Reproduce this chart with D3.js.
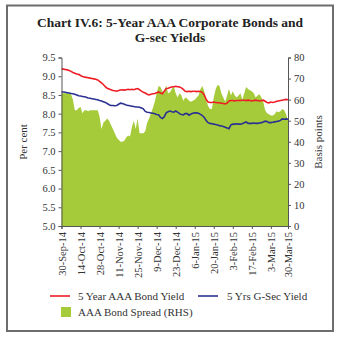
<!DOCTYPE html>
<html><head><meta charset="utf-8">
<script src="https://cdn.jsdelivr.net/npm/d3@7"></script>
<style>body{margin:0;background:#fff}svg{display:block}</style>
</head><body>
<script>
const tickLabels = ["30-Sep-14","14-Oct-14","28-Oct-14","11-Nov-14","25-Nov-14","9-Dec-14","23-Dec-14","6-Jan-15","20-Jan-15","3-Feb-15","17-Feb-15","3-Mar-15","30-Mar-15"];
const tickIndex = [0,10,20,30,40,50,60,70,80,90,100,110,119];
const aaaYield = [
9.20,9.19,9.18,9.17,9.15,9.13,9.10,9.08,9.06,9.05,
9.02,8.99,8.98,8.97,8.96,8.95,8.94,8.93,8.92,8.90,
8.86,8.82,8.78,8.72,8.68,8.66,8.64,8.62,8.61,8.60,
8.62,8.63,8.64,8.63,8.64,8.65,8.64,8.65,8.64,8.66,
8.67,8.64,8.60,8.57,8.55,8.52,8.50,8.52,8.53,8.54,
8.56,8.58,8.55,8.53,8.60,8.67,8.68,8.70,8.71,8.72,
8.73,8.72,8.71,8.69,8.65,8.60,8.59,8.60,8.59,8.60,
8.60,8.59,8.60,8.59,8.57,8.50,8.38,8.31,8.30,8.30,
8.31,8.30,8.29,8.29,8.28,8.27,8.26,8.28,8.34,8.35,
8.35,8.34,8.35,8.35,8.35,8.36,8.36,8.35,8.36,8.35,
8.34,8.35,8.36,8.35,8.34,8.35,8.36,8.33,8.30,8.29,
8.31,8.30,8.31,8.33,8.34,8.35,8.36,8.37,8.38,8.37];
const gsecYield = [
8.58,8.58,8.57,8.56,8.55,8.54,8.53,8.52,8.50,8.48,
8.47,8.46,8.45,8.44,8.42,8.41,8.40,8.39,8.38,8.37,
8.35,8.34,8.32,8.30,8.27,8.24,8.22,8.22,8.21,8.22,
8.25,8.28,8.27,8.25,8.23,8.22,8.21,8.20,8.19,8.18,
8.18,8.17,8.15,8.13,8.06,8.04,8.03,8.02,8.01,8.00,
7.98,7.97,7.90,7.87,7.92,8.02,8.05,8.07,8.05,8.04,
8.07,8.04,8.00,7.98,7.97,8.00,8.00,7.96,7.99,8.01,
8.02,8.02,8.01,7.98,7.95,7.90,7.82,7.76,7.74,7.73,
7.72,7.71,7.70,7.68,7.67,7.66,7.64,7.62,7.60,7.70,
7.72,7.72,7.73,7.72,7.72,7.73,7.76,7.78,7.74,7.74,
7.74,7.75,7.74,7.74,7.75,7.76,7.78,7.80,7.79,7.76,
7.76,7.77,7.78,7.79,7.80,7.82,7.86,7.85,7.86,7.85];
const spread = [
63,63,63,63,63,62.5,60,55,55,56,
56.5,53.5,55,55,54.5,55,55,55,55,55,
52,46,49,50,51,50,48,46,44,42,
41,40,40,40.5,42,43,42.5,47,50,46,
51,44,44,44,45,49,51,53.5,56,59,
63,66.5,66,64,63,67,63,63.5,65,66.5,
63,61,63,62,59.5,61,60.5,59.5,59,59.5,
60,61,62,65,66.5,64,60,57,55.5,55.5,
61,65,67,66.5,63,61,59,62,65,62,
64,62,61,62,63,60,63,66,65,64.5,
64,63,61,62,62.5,61,59,55,53.5,53,
52.5,52.5,53,54.5,54,54.5,55.5,55,53,50];
const leftTicks = [5.0,5.5,6.0,6.5,7.0,7.5,8.0,8.5,9.0,9.5];
const rightTicks = [0,10,20,30,40,50,60,70,80];

const W=343,H=342;
const svg=d3.select("body").append("svg").attr("width",W).attr("height",H);
const serif="'Liberation Serif','DejaVu Serif',serif";
svg.append("rect").attr("x",7).attr("y",5.5).attr("width",326).attr("height",325.5)
  .attr("fill","none").attr("stroke","#6d6d6d").attr("stroke-width",2);

const title=svg.append("text").attr("text-anchor","middle").attr("font-family",serif)
  .attr("font-weight","bold").attr("font-size",13.5).attr("fill","#222");
title.append("tspan").attr("x",170).attr("y",27).text("Chart IV.6: 5-Year AAA Corporate Bonds and");
title.append("tspan").attr("x",170).attr("y",42).text("G-sec Yields");

const x0=61.5,x1=288,yT=57.5,yB=226;
const x=d3.scaleLinear().domain([0,119]).range([x0,x1]);
const yL=d3.scaleLinear().domain([5,9.5]).range([yB,yT]);
const yR=d3.scaleLinear().domain([0,80]).range([yB,yT]);

const idx=d3.range(spread.length);
svg.append("path").datum(idx).attr("fill","#a5cb3a")
  .attr("d",d3.area().x(i=>x(i)).y0(yB).y1(i=>yR(spread[i])));
svg.append("path").datum(idx).attr("fill","none").attr("stroke","#ee1c24").attr("stroke-width",1.6)
  .attr("d",d3.line().x(i=>x(i)).y(i=>yL(aaaYield[i])));
svg.append("path").datum(idx).attr("fill","none").attr("stroke","#2b3192").attr("stroke-width",1.6)
  .attr("d",d3.line().x(i=>x(i)).y(i=>yL(gsecYield[i])));

function styleAxis(g){
  g.selectAll("path,line").attr("stroke","#555");
  g.selectAll("text").attr("font-family",serif).attr("font-size",10.5).attr("fill","#333");
}
const gl=svg.append("g").attr("transform",`translate(${x0},0)`)
  .call(d3.axisLeft(yL).tickValues(leftTicks).tickFormat(d3.format(".1f")).tickSizeOuter(0).tickSize(3).tickPadding(3));
styleAxis(gl);
const gr=svg.append("g").attr("transform",`translate(${x1},0)`)
  .call(d3.axisRight(yR).tickValues(rightTicks).tickSizeOuter(0).tickSize(3).tickPadding(3));
styleAxis(gr);
const gb=svg.append("g").attr("transform",`translate(0,${yB})`)
  .call(d3.axisBottom(x).tickValues(tickIndex).tickFormat((d,i)=>tickLabels[i]).tickSizeOuter(0).tickSize(3));
styleAxis(gb);
gb.selectAll("text").attr("text-anchor","end").attr("transform","rotate(-90)")
  .attr("x",-6).attr("y",0).attr("dy","0.35em");

svg.append("text").attr("transform","translate(27,142) rotate(-90)").attr("text-anchor","middle")
  .attr("font-family",serif).attr("font-size",11).attr("fill","#333").text("Per cent");
svg.append("text").attr("transform","translate(322,142) rotate(-90)").attr("text-anchor","middle")
  .attr("font-family",serif).attr("font-size",11).attr("fill","#333").text("Basis points");

const lg=svg.append("g").attr("font-family",serif).attr("font-size",11).attr("fill","#333");
lg.append("line").attr("x1",50).attr("x2",70).attr("y1",296).attr("y2",296).attr("stroke","#ee1c24").attr("stroke-width",1.6);
lg.append("text").attr("x",78).attr("y",300).text("5 Year AAA Bond Yield");
lg.append("line").attr("x1",198).attr("x2",218).attr("y1",296).attr("y2",296).attr("stroke","#2b3192").attr("stroke-width",1.6);
lg.append("text").attr("x",227).attr("y",300).text("5 Yrs G-Sec Yield");
lg.append("rect").attr("x",61).attr("y",307).attr("width",10).attr("height",10).attr("fill","#a5cb3a");
lg.append("text").attr("x",78).attr("y",316).text("AAA Bond Spread (RHS)");
</script>
</body></html>
